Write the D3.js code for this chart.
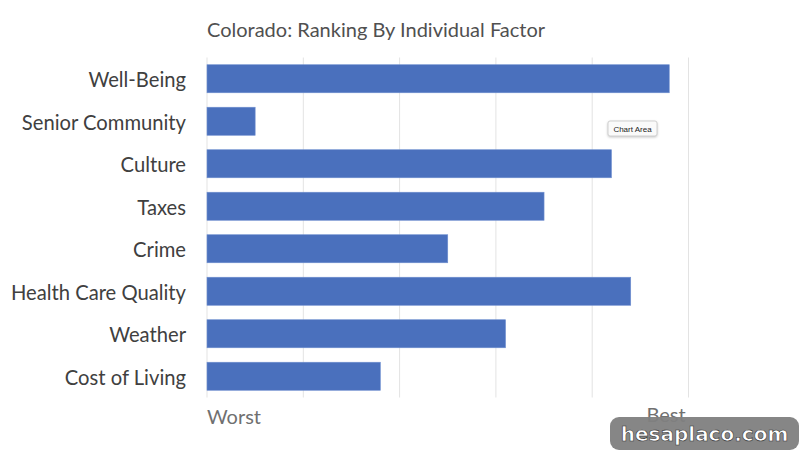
<!DOCTYPE html>
<html>
  <head>
    <script src="https://d3js.org/d3.v7.min.js"></script>
    <style>
      body { margin: 0; background: #fff; }
      text { font-family: Lato, "Open Sans", sans-serif; }
    </style>
  </head>
  <body>
    <script type="text/javascript">

    // factor names, top to bottom
    var factors = ["Well-Being", "Senior Community", "Culture", "Taxes",
                   "Crime", "Health Care Quality", "Weather", "Cost of Living"];
    // ranking score (0 = worst, 50 = best)
    var scores = [48, 5, 42, 35, 25, 44, 31, 18];
    var gridTicks = [0, 10, 20, 30, 40, 50];
    var endLabels = ["Worst", "Best"];

    var width = 800, height = 454;
    var svg = d3.select("body").append("svg")
        .attr("width", width)
        .attr("height", height);

    var x = d3.scaleLinear().domain([0, 50]).range([207, 688.5]);
    var y = d3.scaleBand().domain(factors).range([57.5, 397.5]).paddingInner(0.34).paddingOuter(0.17);

    // vertical gridlines
    svg.selectAll("line.grid")
      .data(gridTicks)
      .enter()
      .append("line")
        .attr("class", "grid")
        .attr("x1", function (d) { return x(d); })
        .attr("x2", function (d) { return x(d); })
        .attr("y1", 57.5)
        .attr("y2", 397.5)
        .attr("stroke", "#e3e3e3")
        .attr("stroke-width", 1);

    // bars
    svg.selectAll("rect.bar")
      .data(factors)
      .enter()
      .append("rect")
        .attr("class", "bar")
        .attr("x", x(0))
        .attr("y", function (d) { return y(d); })
        .attr("width", function (d, i) { return x(scores[i]) - x(0); })
        .attr("height", y.bandwidth())
        .attr("fill", "#4a70bd")
        .attr("stroke", "#6f8fd0")
        .attr("stroke-width", 0.6);

    // category labels
    svg.selectAll("text.cat")
      .data(factors)
      .enter()
      .append("text")
        .attr("class", "cat")
        .attr("x", 186)
        .attr("y", function (d) { return y(d) + y.bandwidth() / 2 + 1.5; })
        .attr("dy", "0.35em")
        .attr("text-anchor", "end")
        .style("font-size", "20.2px")
        .style("fill", "#404040")
        .text(function (d) { return d; });

    // title
    svg.append("text")
        .attr("x", 207)
        .attr("y", 37)
        .style("font-size", "20px")
        .style("fill", "#505050")
        .text("Colorado: Ranking By Individual Factor");

    // worst / best labels
    svg.append("text")
        .attr("x", x(0))
        .attr("y", 424)
        .style("font-size", "20px")
        .style("fill", "#707070")
        .text(endLabels[0]);
    svg.append("text")
        .attr("x", 666)
        .attr("y", 422)
        .attr("text-anchor", "middle")
        .style("font-size", "20px")
        .style("fill", "#707070")
        .text(endLabels[1]);

    // "Chart Area" hover tip
    var tip = svg.append("g").attr("transform", "translate(608,121)");
    tip.append("rect")
        .attr("width", 49).attr("height", 15).attr("rx", 2)
        .attr("fill", "#fafafa").attr("stroke", "#d0d0d0")
        .style("filter", "drop-shadow(0px 1px 1px rgba(0,0,0,0.2))");
    tip.append("text")
        .attr("x", 24.5).attr("y", 11)
        .attr("text-anchor", "middle")
        .style("font-family", "Liberation Sans, sans-serif")
        .style("font-size", "8px")
        .style("fill", "#222")
        .text("Chart Area");

    // watermark
    var wm = svg.append("g").attr("transform", "translate(610,417)");
    wm.append("rect")
        .attr("width", 189).attr("height", 33).attr("rx", 9)
        .attr("fill", "#7f7f7f").attr("opacity", 0.95);
    wm.append("text")
        .attr("x", 94.5).attr("y", 24)
        .attr("text-anchor", "middle")
        .style("font-family", "DejaVu Sans, sans-serif")
        .style("font-weight", "bold")
        .style("font-size", "20px")
        .style("fill", "#fff")
        .style("stroke", "#333")
        .style("stroke-width", 0.6)
        .text("hesaplaco.com");

    </script>
  </body>
</html>
